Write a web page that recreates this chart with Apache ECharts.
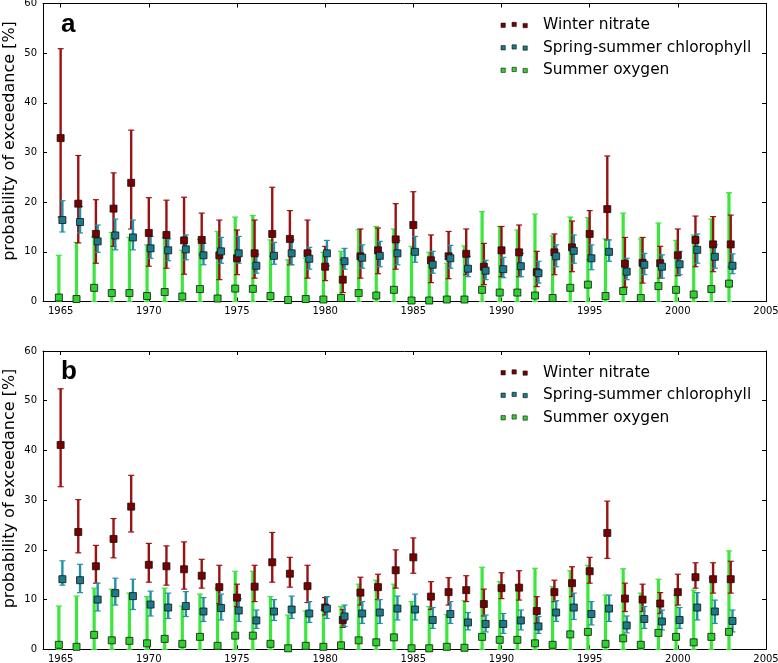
<!DOCTYPE html>
<html>
<head>
<meta charset="utf-8">
<script src="https://cdn.jsdelivr.net/npm/echarts@6/dist/echarts.min.js"></script>
<style>html,body{margin:0;padding:0;background:#fff}#c{width:778px;height:663px}</style>
</head>
<body>
<div id="c"></div>
<script>
const years = [1965,1966,1967,1968,1969,1970,1971,1972,1973,1974,1975,1976,1977,1978,1979,1980,1981,1982,1983,1984,1985,1986,1987,1988,1989,1990,1991,1992,1993,1994,1995,1996,1997,1998,1999,2000,2001,2002,2003];
const xTicks = [1965,1970,1975,1980,1985,1990,1995,2000,2005];
const yTicks = [0,10,20,30,40,50,60];
const seriesNames = ['Winter nitrate','Spring-summer chlorophyll','Summer oxygen'];
const yTitle = 'probability of exceedance [%]';

// Panel a
const aNit   = [32.9,19.7,13.6,18.7,23.9,13.8,13.4,12.3,12.4,9.3,8.7,9.7,13.6, 12.6,9.7,7.0,4.4,9.1,10.3,12.5,15.4,8.3,9.1,9.6,7.0,10.3,9.9, 5.9,9.9,10.9,13.6,18.6,7.6,7.8,7.7,9.3,12.4,11.5,11.5];
const aNitLo = [17.0,11.8,7.7,11.1,14.6,7.1,6.7,5.5,9.4,4.4,5.4,4.7,9.1, 7.4,4.7,4.2,1.8,4.7,5.6,6.5,9.7,3.8,4.6,5.4,3.4,5.0,5.0, 3.0,5.4,6.0,8.4,12.4,2.9,3.7,4.7,5.2,7.0,6.0,7.0];
const aNitHi = [50.9,29.4,20.5,25.9,34.5,20.9,20.4,21.0,17.8,16.4,14.4,16.4,23.0, 18.3,16.4,11.1,8.4,14.6,14.8,19.7,22.1,13.4,14.1,14.6,11.7,15.1,15.4, 10.1,13.6,16.2,18.3,29.3,12.9,12.9,11.1,14.6,17.2,17.1,17.4];
const aChl   = [16.4,16.0,12.1,13.3,12.9,10.7,10.3,10.5,9.3,10.1,9.7,7.2,9.2, 9.7,8.6,9.7,8.1,8.8,9.2,9.7,10.0,7.4,8.7,6.6,6.2,6.5,7.1, 5.7,9.1,10.2,8.7,10.0,6.0,7.4,7.0,7.5,10.4,9.0,7.2];
const aChlLo = [14.0,13.8,9.9,10.4,10.4,8.7,8.2,8.4,7.4,7.7,7.7,5.7,7.5, 7.4,6.5,7.2,6.5,6.7,7.0,7.4,7.9,5.7,6.7,5.0,4.4,4.8,5.0, 3.7,7.0,7.7,6.4,8.1,4.4,5.4,4.7,5.4,7.7,6.7,5.6];
const aChlHi = [20.3,19.1,15.4,16.6,16.4,13.1,12.6,13.4,11.7,12.9,13.1,9.5,11.9, 12.4,10.9,12.3,10.7,11.4,12.1,12.3,13.1,10.1,11.3,9.1,8.3,8.9,9.7, 8.1,11.4,13.4,11.4,12.4,8.7,9.7,9.4,10.1,13.6,11.4,9.6];
const aOxy   = [0.8,0.5,2.75,1.7,1.7,1.1,1.9,1.0,2.5,0.6,2.6,2.55,1.1, 0.3,0.5,0.4,0.7,1.7,1.2,2.35,0.2,0.2,0.4,0.4,2.35,1.8,1.8, 1.2,0.7,2.75,3.4,1.1,2.1,0.7,3.1,2.35,1.4,2.5,3.6];
const aOxyLo = [0,0,0,0,0,0,0,0,0,0,0,0,0, 0,0,0,0,0,0,0,0,0,0,0,0,0,0, 0,0,0,0,0,0,0,0,0,0,0,0];
const aOxyHi = [9.3,11.9,13.0,13.9,12.9,11.4,12.8,10.3,12.5,14.1,17.0,17.3,12.4, 8.4,8.7,9.9,10.1,14.4,15.1,14.6,11.1,9.9,7.7,11.2,18.1,15.1,14.4, 17.6,13.2,17.0,16.9,12.6,17.8,12.6,15.8,12.3,13.4,16.6,21.9];

// Panel b
const bNit   = [41.1,23.6,16.7,22.2,28.7,17.0,16.7,16.1,14.8,12.5,10.4,12.6,17.5, 15.2,12.7,8.4,5.9,11.4,12.5,15.9,18.5,10.6,11.5,11.9,9.1,12.3,12.4, 7.7,11.5,13.3,15.7,23.4,10.2,10.0,9.2,11.5,14.5,14.1,14.1];
const bNitLo = [32.7,19.4,13.3,18.4,23.6,13.5,12.9,12.1,12.3,9.2,8.6,9.6,13.5, 12.5,9.4,6.9,4.4,8.9,10.0,12.3,15.3,8.0,8.9,9.6,6.7,10.2,9.9, 5.2,9.6,10.6,13.3,18.3,7.6,7.6,7.2,8.9,12.3,11.3,11.3];
const bNitHi = [52.4,30.1,20.9,26.3,35.0,21.3,20.8,21.6,18.1,16.9,13.1,16.9,23.5, 18.5,16.9,10.4,8.0,14.5,15.1,20.0,22.4,13.6,14.4,14.8,12.1,15.4,15.8, 10.6,13.9,16.6,18.5,29.8,13.3,13.1,11.4,15.1,17.4,17.4,17.7];
const bChl   = [14.1,13.9,10.0,11.3,10.7,9.0,8.4,8.7,7.6,8.3,7.8,5.8,7.6, 8.0,7.2,8.2,6.6,7.2,7.4,8.2,8.0,5.9,7.1,5.4,5.1,5.1,5.8, 4.6,7.4,8.4,7.1,8.2,4.8,6.1,5.6,5.9,8.4,7.6,5.7];
const bChlLo = [12.9,11.4,7.7,8.9,8.0,6.7,6.2,6.6,5.6,5.9,5.6,4.2,5.8, 6.2,5.4,6.2,4.6,5.2,5.2,5.9,5.9,4.2,5.2,3.9,3.5,3.2,3.9, 3.2,5.6,6.0,4.9,5.6,3.3,4.2,3.9,4.2,5.9,5.2,3.5];
const bChlHi = [17.8,17.1,13.3,14.3,14.1,11.7,11.3,11.6,10.4,11.1,10.2,7.9,10.0, 10.7,9.6,10.6,8.9,9.6,10.0,10.7,11.1,8.4,9.6,7.4,6.9,7.2,7.9, 6.6,9.8,11.3,9.6,10.9,6.7,8.6,7.9,8.4,11.4,9.9,7.9];
const bOxy   = [0.9,0.5,2.9,1.8,1.7,1.2,2.1,1.1,2.5,0.7,2.75,2.75,1.1, 0.2,0.7,0.5,0.8,1.8,1.4,2.4,0.2,0.2,0.5,0.3,2.5,1.9,1.9, 1.2,0.9,3.0,3.5,1.1,2.2,0.9,3.3,2.5,1.4,2.5,3.5];
const bOxyLo = [0,0,0,0,0,0,0,0,0,0,0,0,0, 0,0,0,0,0,0,0,0,0,0,0,0,0,0, 0,0,0,0,0,0,0,0,0,0,0,0];
const bOxyHi = [8.7,10.7,12.3,12.1,11.3,10.6,12.3,8.7,11.1,12.3,15.7,15.7,10.6, 6.9,7.7,7.9,8.6,13.1,13.9,13.1,9.6,8.6,7.0,9.8,16.5,13.6,12.9, 16.3,12.6,15.8,16.9,10.9,16.2,11.3,14.1,10.9,11.9,14.3,19.8];

const FONT = 'DejaVu Sans';
const styles = [
  {marker:'#7a0000', bar:'#9a1212', lw:2.4, off:0},
  {marker:'#1d7a88', bar:'#2590a3', lw:2.4, off:0.1},
  {marker:'#2fd12f', bar:'#3ce63c', lw:3.2, off:-0.1}
];

function errRender(color, lw) {
  return function (params, api) {
    const x = api.value(0), lo = api.value(1), hi = api.value(2);
    const p1 = api.coord([x, lo]), p2 = api.coord([x, hi]);
    const cw = 3;
    return {type:'group', children:[
      {type:'line', shape:{x1:p1[0], y1:p1[1], x2:p2[0], y2:p2[1]}, style:{stroke:color, lineWidth:lw}},
      {type:'line', shape:{x1:p1[0]-cw, y1:p1[1], x2:p1[0]+cw, y2:p1[1]}, style:{stroke:color, lineWidth:1.2}},
      {type:'line', shape:{x1:p2[0]-cw, y1:p2[1], x2:p2[0]+cw, y2:p2[1]}, style:{stroke:color, lineWidth:1.2}}
    ]};
  };
}

const panels = [
  {vals:[aNit,aChl,aOxy], lo:[aNitLo,aChlLo,aOxyLo], hi:[aNitHi,aChlHi,aOxyHi]},
  {vals:[bNit,bChl,bOxy], lo:[bNitLo,bChlLo,bOxyLo], hi:[bNitHi,bChlHi,bOxyHi]}
];

const grids = [
  {left:43, top:3.5, width:723, height:298, outerBoundsMode:'none', containLabel:false},
  {left:43, top:351, width:723, height:298.3, outerBoundsMode:'none', containLabel:false}
];

const xAxes = [], yAxes = [], series = [], legends = [];
grids.forEach((g, gi) => {
  xAxes.push({type:'value', gridIndex:gi, min:1964, max:2005, position:'bottom',
    axisLine:{show:true, onZero:false, lineStyle:{color:'#000', width:1}},
    axisTick:{show:true, inside:true, length:4, customValues:xTicks, lineStyle:{color:'#000'}},
    axisLabel:{show:true, customValues:xTicks, formatter:(v)=>String(v), color:'#000', fontFamily:FONT, fontSize:10, margin:5},
    splitLine:{show:false}});
  xAxes.push({type:'value', gridIndex:gi, min:1964, max:2005, position:'top',
    axisLine:{show:true, onZero:false, lineStyle:{color:'#000', width:1}},
    axisTick:{show:true, inside:true, length:4, customValues:xTicks, lineStyle:{color:'#000'}},
    axisLabel:{show:false}, splitLine:{show:false}});
  yAxes.push({type:'value', gridIndex:gi, min:0, max:60, interval:10, position:'left',
    axisLine:{show:true, onZero:false, lineStyle:{color:'#000', width:1}},
    axisTick:{show:true, inside:true, length:4, lineStyle:{color:'#000'}},
    axisLabel:{show:true, color:'#000', fontFamily:FONT, fontSize:10, margin:6},
    splitLine:{show:false}});
  yAxes.push({type:'value', gridIndex:gi, min:0, max:60, interval:10, position:'right',
    axisLine:{show:true, onZero:false, lineStyle:{color:'#000', width:1}},
    axisTick:{show:true, inside:true, length:4, lineStyle:{color:'#000'}},
    axisLabel:{show:false}, splitLine:{show:false}});

  const p = panels[gi];
  const xi = gi*2, yi = gi*2;
  [2,0,1].forEach(k => {
    const st = styles[k];
    series.push({type:'custom', name:seriesNames[k]+' err', xAxisIndex:xi, yAxisIndex:yi,
      renderItem:errRender(st.bar, st.lw), z:2, silent:true,
      encode:{x:0, y:[1,2]},
      data: years.map((y,i)=>[y+st.off, p.lo[k][i], p.hi[k][i]])});
  });
  [2,0,1].forEach(k => {
    const st = styles[k];
    series.push({type:'scatter', name:seriesNames[k], xAxisIndex:xi, yAxisIndex:yi,
      symbol:'rect', symbolSize:7, z:3,
      itemStyle:{color:st.marker, borderColor:'#111', borderWidth:0.8, opacity:1},
      data: years.map((y,i)=>[y+st.off, p.vals[k][i]])});
  });
  legends.push({data:seriesNames, orient:'vertical', left:500.7, top:g.top+13.5, padding:0,
    itemWidth:26.3, itemHeight:5.5, itemGap:6.5,
    icon:'path://M0,0.8h4.3v4.3h-4.3zM11,0h4.3v4.3h-4.3zM22,1.1h4.3v4.3h-4.3z',
    itemStyle:{borderColor:'#111', borderWidth:0.6},
    textStyle:{fontFamily:FONT, fontSize:15.4, color:'#000', lineHeight:16, padding:[0,0,0,10.7]},
    selectedMode:false});
});

const chart = echarts.init(document.getElementById('c'), null, {renderer:'canvas'});
chart.setOption({
  animation:false,
  backgroundColor:'#fff',
  grid:grids,
  xAxis:xAxes,
  yAxis:yAxes,
  legend:legends,
  series:series,
  graphic:[
    {type:'text', x:9.5, y:141, rotation:Math.PI/2,
      style:{text:yTitle, font:'16px "DejaVu Sans"', fill:'#000', align:'center', verticalAlign:'middle'}},
    {type:'text', x:9.5, y:488.5, rotation:Math.PI/2,
      style:{text:yTitle, font:'16px "DejaVu Sans"', fill:'#000', align:'center', verticalAlign:'middle'}},
    {type:'text', left:61, top:12, style:{text:'a', font:'bold 26px "Liberation Sans"', fill:'#000'}},
    {type:'text', left:61, top:359, style:{text:'b', font:'bold 26px "Liberation Sans"', fill:'#000'}}
  ]
});
</script>
</body>
</html>
